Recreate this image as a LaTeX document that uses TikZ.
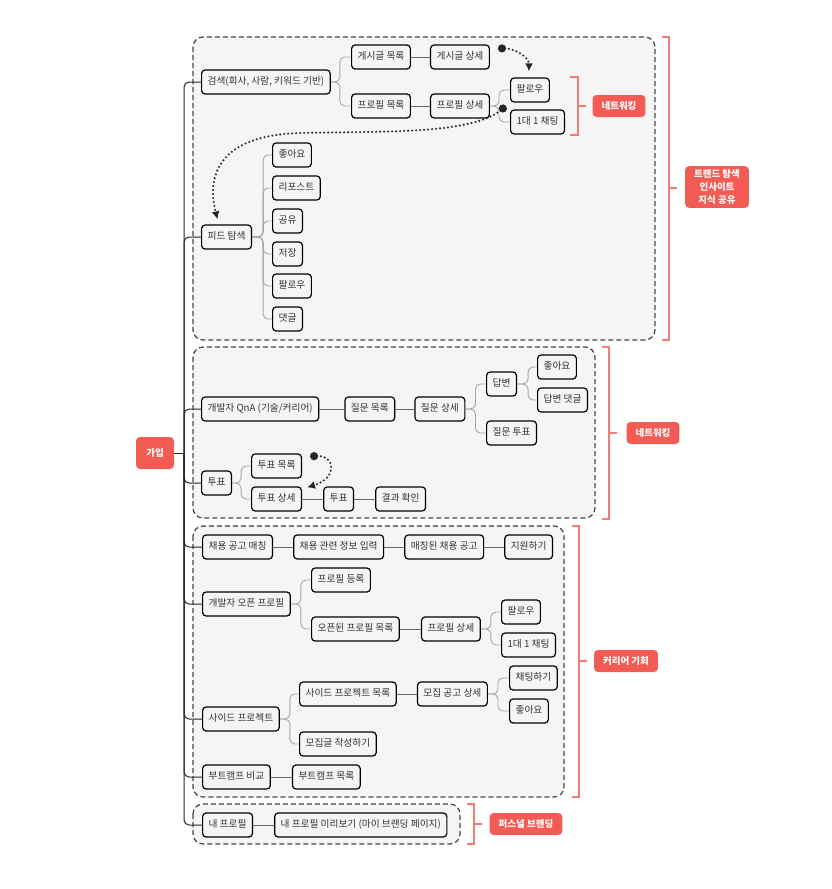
\documentclass[tikz,border=0pt]{standalone}
\usepackage{fontspec}
\setmainfont{Noto Sans CJK KR}
\usetikzlibrary{arrows.meta,positioning}

\definecolor{boxfill}{HTML}{F5F5F5}
\definecolor{boxline}{HTML}{444444}
\definecolor{tagred}{HTML}{F25C54}
\definecolor{brackred}{HTML}{F47C74}
\definecolor{ink}{HTML}{333333}

\tikzset{
    item/.style={draw=black, fill=boxfill, line width=1.2pt, rounded corners=3.5pt, text=ink,
        font=\fontsize{9.7}{11}\selectfont, inner xsep=6pt, text height=7.5pt, text depth=2pt,
        minimum height=24pt, anchor=west},
    tag/.style={fill=tagred, text=white, rounded corners=4pt, font=\bfseries\fontsize{9.5}{13}\selectfont,
        inner xsep=9pt, minimum height=22pt, align=center},
    group/.style={draw=boxline, fill=boxfill, dash pattern=on 5pt off 3pt, line width=1.2pt, rounded corners=10pt},
    bracket/.style={draw=brackred, line width=1.2pt},
    link/.style={draw=gray!80!black, line width=0.9pt},
    fork/.style={draw=gray!70, line width=0.9pt, rounded corners=5pt},
    trunk/.style={draw=black!85, line width=1pt, rounded corners=5pt},
    hop/.style={draw=black!85, line width=2.3pt, dash pattern=on 0pt off 4pt, line cap=round,
        {Circle[length=8pt]}-{Latex[length=8pt,width=8pt]}}
}

\begin{document}
\begin{tikzpicture}[x=1pt, y=-1pt, node distance=19pt]
    \useasboundingbox (0,0) rectangle (831,889);

    \draw[group] (193,37) rectangle (655,340);
    \draw[group] (193,347) rectangle (595,518);
    \draw[group] (193,526) rectangle (564,797);
    \draw[group] (193,804) rectangle (460,844);

    \draw[bracket] (662,37) -| (669,340) -- (662,340);
    \draw[bracket] (669,188) -- (677,188);
    \draw[bracket] (570,77) -| (578,135) -- (570,135);
    \draw[bracket] (578,106) -- (586,106);
    \draw[bracket] (602,347) -| (609,519) -- (602,519);
    \draw[bracket] (609,433) -- (617,433);
    \draw[bracket] (572,526) -| (579,797) -- (572,797);
    \draw[bracket] (579,661) -- (587,661);
    \draw[bracket] (467,804) -| (474,844) -- (467,844);
    \draw[bracket] (474,824) -- (482,824);

    \node[tag] (trend) at (717,187) {트랜드 탐색\\인사이트\\지식 공유};
    \node[tag] (net1) at (619,106) {네트워킹};
    \node[tag] (net2) at (653,433) {네트워킹};
    \node[tag] (career) at (626,661) {커리어 기회};
    \node[tag] (brand) at (526,824) {퍼스널 브랜딩};
    \node[tag, minimum width=38pt, minimum height=32pt] (join) at (155,453) {가입};

    \node[item] (search) at (201,82) {검색(회사, 사람, 키워드 기반)};
    \node[item] (postlist) at (351,57) {게시글 목록};
    \node[item] (postdet) [right=of postlist] {게시글 상세};
    \node[item] (proflist) at (351,106) {프로필 목록};
    \node[item] (profdet) [right=of proflist] {프로필 상세};
    \node[item] (follow1) at (510,90) {팔로우};
    \node[item] (chat1) at (510,122) {1대 1 채팅};
    \node[item] (feed) at (201,237) {피드 탐색};
    \node[item] (like1) at (272,155) {좋아요};
    \node[item] (repost) at (272,188) {리포스트};
    \node[item] (share) at (272,221) {공유};
    \node[item] (save) at (272,254) {저장};
    \node[item] (follow2) at (272,286) {팔로우};
    \node[item] (comment) at (272,319) {댓글};

    \node[item] (qna) at (201,409) {개발자 QnA (기술/커리어)};
    \node[item] (qlist) [right=25pt of qna] {질문 목록};
    \node[item] (qdet) [right=of qlist] {질문 상세};
    \node[item] (answer) at (486,384) {답변};
    \node[item] (like2) at (537,367) {좋아요};
    \node[item] (anscom) at (537,400) {답변 댓글};
    \node[item] (qvote) at (486,433) {질문 투표};
    \node[item] (vote) at (201,483) {투표};
    \node[item] (votelist) at (251,466) {투표 목록};
    \node[item] (votedet) at (251,499) {투표 상세};
    \node[item] (vote2) [right=21pt of votedet] {투표};
    \node[item] (result) [right=21pt of vote2] {결과 확인};

    \node[item] (jobmatch) at (202,547) {채용 공고 매칭};
    \node[item] (jobinfo) [right=20pt of jobmatch] {채용 관련 정보 입력};
    \node[item] (matched) [right=20pt of jobinfo] {매칭된 채용 공고};
    \node[item] (apply) [right=20pt of matched] {지원하기};
    \node[item] (openprof) at (202,604) {개발자 오픈 프로필};
    \node[item] (profreg) at (311,580) {프로필 등록};
    \node[item] (openlist) at (311,629) {오픈된 프로필 목록};
    \node[item] (profdet2) [right=21pt of openlist] {프로필 상세};
    \node[item] (follow3) at (501,612) {팔로우};
    \node[item] (chat2) at (501,645) {1대 1 채팅};
    \node[item] (side) at (202,719) {사이드 프로젝트};
    \node[item] (sidelist) at (299,694) {사이드 프로젝트 목록};
    \node[item] (recruit) [right=20pt of sidelist] {모집 공고 상세};
    \node[item] (chatting) at (509,678) {채팅하기};
    \node[item] (like3) at (509,711) {좋아요};
    \node[item] (write) at (299,744) {모집글 작성하기};
    \node[item] (camp) at (202,777) {부트캠프 비교};
    \node[item] (camplist) [right=21pt of camp] {부트캠프 목록};

    \node[item] (mine) at (202,825) {내 프로필};
    \node[item] (preview) [right=21pt of mine] {내 프로필 미리보기 (마이 브랜딩 페이지)};

    \coordinate (hub) at (184,453);
    \draw[trunk] (join.east) -- (hub);
    \draw[trunk] (hub) |- (search.west);
    \draw[trunk] (hub) |- (feed.west);
    \draw[trunk] (hub) |- (qna.west);
    \draw[trunk] (hub) |- (vote.west);
    \draw[trunk] (hub) |- (jobmatch.west);
    \draw[trunk] (hub) |- (openprof.west);
    \draw[trunk] (hub) |- (side.west);
    \draw[trunk] (hub) |- (camp.west);
    \draw[trunk] (hub) |- (mine.west);

    \draw[fork] (search.east) -- ++(9,0) |- (postlist.west);
    \draw[fork] (search.east) -- ++(9,0) |- (proflist.west);
    \draw[link] (postlist) -- (postdet);
    \draw[link] (proflist) -- (profdet);
    \draw[fork] (profdet.east) -- ++(9,0) |- (follow1.west);
    \draw[fork] (profdet.east) -- ++(9,0) |- (chat1.west);
    \draw[fork] (feed.east) -- ++(11,0) |- (like1.west);
    \draw[fork] (feed.east) -- ++(11,0) |- (repost.west);
    \draw[fork] (feed.east) -- ++(11,0) |- (share.west);
    \draw[fork] (feed.east) -- ++(11,0) |- (save.west);
    \draw[fork] (feed.east) -- ++(11,0) |- (follow2.west);
    \draw[fork] (feed.east) -- ++(11,0) |- (comment.west);

    \draw[link] (qna) -- (qlist);
    \draw[link] (qlist) -- (qdet);
    \draw[fork] (qdet.east) -- ++(10,0) |- (answer.west);
    \draw[fork] (qdet.east) -- ++(10,0) |- (qvote.west);
    \draw[fork] (answer.east) -- ++(11,0) |- (like2.west);
    \draw[fork] (answer.east) -- ++(11,0) |- (anscom.west);
    \draw[fork] (vote.east) -- ++(9,0) |- (votelist.west);
    \draw[fork] (vote.east) -- ++(9,0) |- (votedet.west);
    \draw[link] (votedet) -- (vote2);
    \draw[link] (vote2) -- (result);

    \draw[link] (jobmatch) -- (jobinfo);
    \draw[link] (jobinfo) -- (matched);
    \draw[link] (matched) -- (apply);
    \draw[fork] (openprof.east) -- ++(10,0) |- (profreg.west);
    \draw[fork] (openprof.east) -- ++(10,0) |- (openlist.west);
    \draw[link] (openlist) -- (profdet2);
    \draw[fork] (profdet2.east) -- ++(10,0) |- (follow3.west);
    \draw[fork] (profdet2.east) -- ++(10,0) |- (chat2.west);
    \draw[fork] (side.east) -- ++(10,0) |- (sidelist.west);
    \draw[fork] (side.east) -- ++(10,0) |- (write.west);
    \draw[link] (sidelist) -- (recruit);
    \draw[fork] (recruit.east) -- ++(10,0) |- (chatting.west);
    \draw[fork] (recruit.east) -- ++(10,0) |- (like3.west);
    \draw[link] (camp) -- (camplist);
    \draw[link] (mine) -- (preview);

    \draw[hop] ([xshift=8pt,yshift=-4pt]postdet.north east) to[out=0,in=90] ([xshift=-1pt,yshift=6pt]follow1.north);
    \draw[hop] ([xshift=16pt]profdet.east) .. controls (470,135) and (380,131) .. (300,133)
        .. controls (225,135) and (205,170) .. ([xshift=-9pt,yshift=5pt]feed.north);
    \draw[hop] ([xshift=8pt,yshift=-3pt]votelist.north east) .. controls (335,455) and (338,478) .. ([xshift=5pt,yshift=-1pt]votedet.north east);
\end{tikzpicture}
\end{document}
